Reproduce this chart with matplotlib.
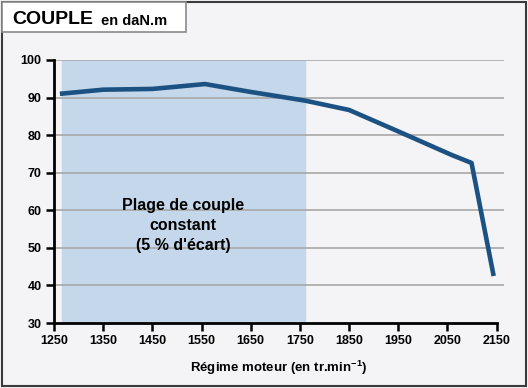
import matplotlib
matplotlib.use('Agg')
import matplotlib.pyplot as plt
from matplotlib.patches import Rectangle

# regime moteur (tr/min) and couple (daN.m)
regime = [1262, 1350, 1450, 1557, 1650, 1760, 1850, 1950, 2059, 2099, 2144]
couple = [91.0, 92.1, 92.3, 93.6, 91.5, 89.2, 86.7, 81.0, 74.7, 72.6, 42.5]
plage = [1266, 1760]
xticks = [1250, 1350, 1450, 1550, 1650, 1750, 1850, 1950, 2050, 2150]
yticks = [30, 40, 50, 60, 70, 80, 90, 100]

plt.rcParams['font.family'] = ['Liberation Sans', 'DejaVu Sans']
plt.rcParams['mathtext.fontset'] = 'custom'
plt.rcParams['mathtext.rm'] = 'Liberation Sans'

bg = '#f4f4f6'
fig = plt.figure(figsize=(5.28, 3.88), dpi=100, facecolor=bg)
ax = fig.add_axes([54/528, 65/388, 450/528, 263/388])
ax.set_facecolor(bg)

ax.axvspan(plage[0], plage[1], color='#c5d7ea', zorder=0)
for y in yticks[1:]:
    ax.axhline(y, color='#a8a8a8', lw=1.2, zorder=1)
ax.plot(regime, couple, color='#1b5283', lw=3.3, solid_capstyle='butt', zorder=3)

ax.set_xlim(1250, 2165)
ax.set_ylim(30, 100)
ax.set_xticks(xticks)
ax.set_yticks(yticks)
ax.tick_params(direction='out', length=6, width=1.8, labelsize=9, pad=3)
for lab in ax.get_xticklabels() + ax.get_yticklabels():
    lab.set_fontweight('bold')
for s in ['top', 'right']:
    ax.spines[s].set_visible(False)
for s in ['left', 'bottom']:
    ax.spines[s].set_linewidth(2)
ax.spines['bottom'].set_bounds(1250, 2150)
ax.set_xlabel(r'Régime moteur (en tr.min$^{\mathregular{-1}}$)', fontsize=9.5,
              fontweight='bold', labelpad=8)

ax.text(1513, 56, "Plage de couple\nconstant\n(5 % d'écart)", ha='center', va='center',
        fontsize=11.5, fontweight='bold', linespacing=1.4)

# outer frame and title box
fig.patches.append(Rectangle((2/528, 2/388), 524/528, 384/388, transform=fig.transFigure,
                             fill=False, ec='#3a3a3a', lw=1.5))
fig.patches.append(Rectangle((2/528, 356/388), 184/528, 30/388, transform=fig.transFigure,
                             fc='white', ec='#8a8a8a', lw=1.2))
fig.text(12/528, 369/388, 'COUPLE', fontsize=14, fontweight='bold', va='center')
fig.text(101/528, 367/388, 'en daN.m', fontsize=10.5, fontweight='bold', va='center')

fig.savefig('out.png', dpi=100, facecolor=bg)
